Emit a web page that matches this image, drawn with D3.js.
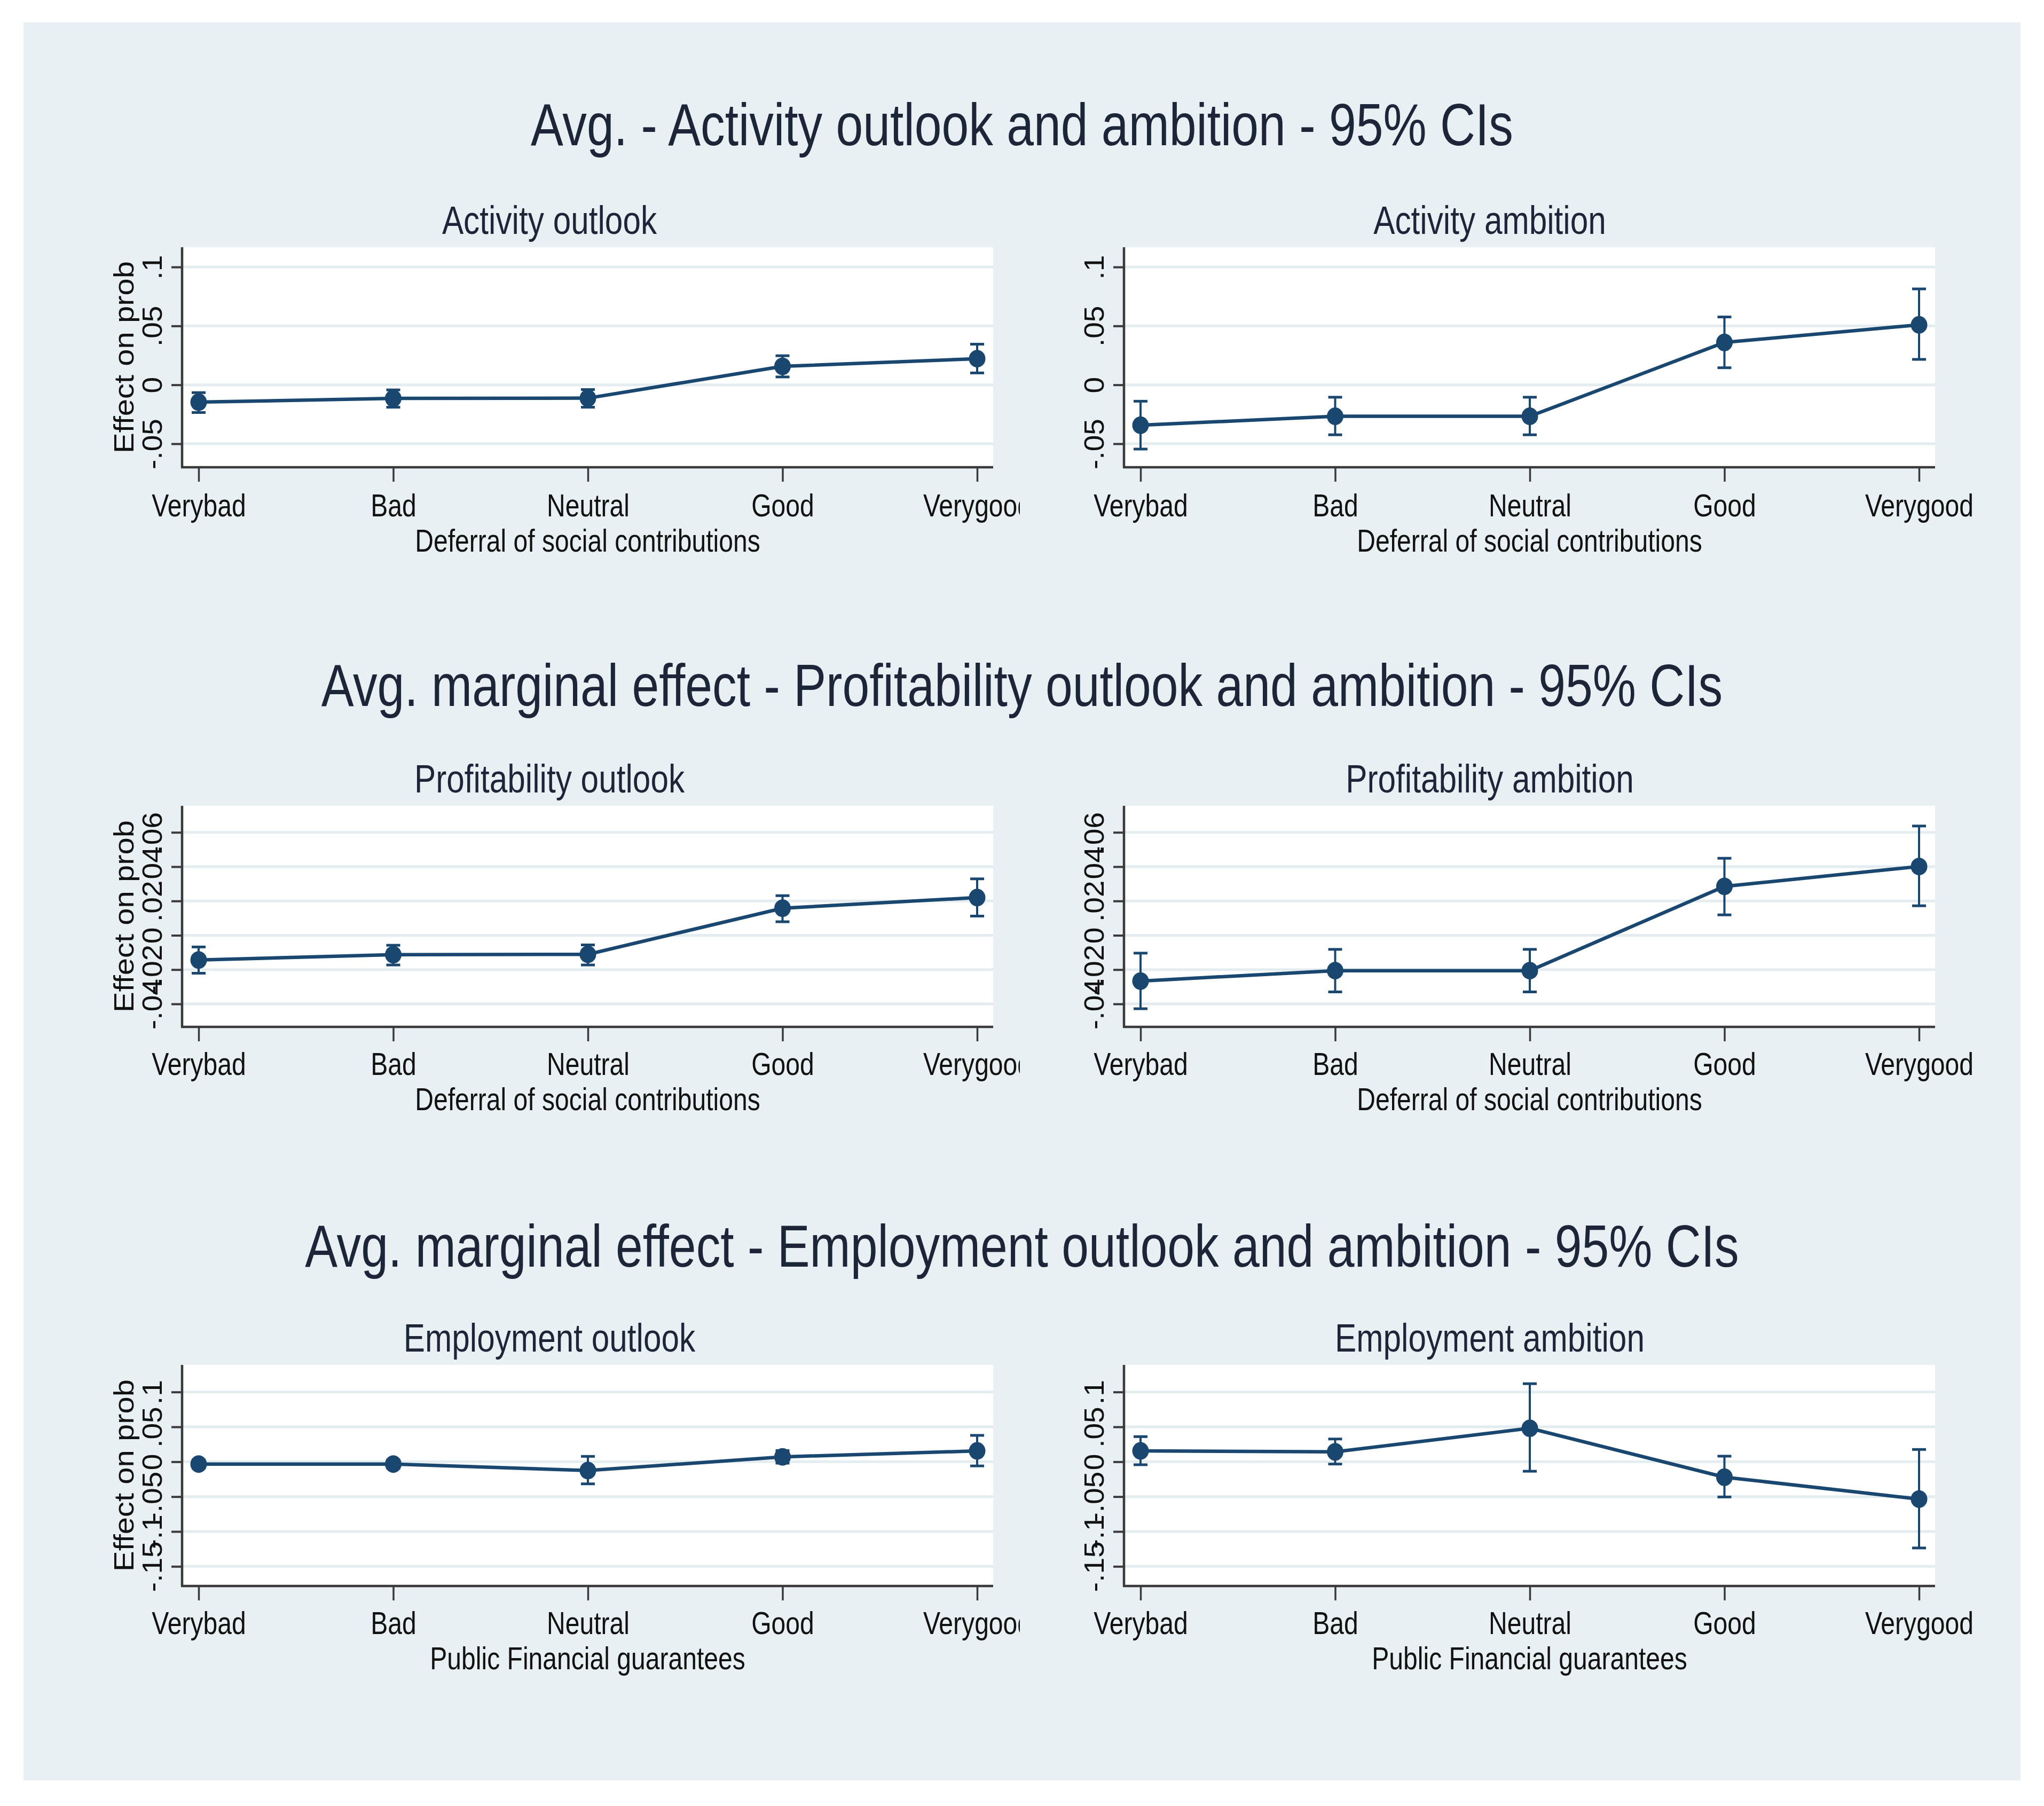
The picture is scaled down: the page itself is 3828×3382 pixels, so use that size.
<!DOCTYPE html>
<html>
<head>
<meta charset="utf-8">
<script src="https://cdn.jsdelivr.net/npm/d3@7"></script>
<style>
  body { margin: 0; background: #ffffff; }
  text { font-family: "Liberation Sans", Arial, sans-serif; }
</style>
</head>
<body>
<div id="plot"></div>
<script>
// categories on the x axis (same for every panel)
const categories = ["Verybad", "Bad", "Neutral", "Good", "Verygood"];

const rowTitles = [
  "Avg. - Activity outlook and ambition - 95% CIs",
  "Avg. marginal effect - Profitability outlook and ambition - 95% CIs",
  "Avg. marginal effect - Employment outlook and ambition - 95% CIs"
];

// y ticks per row
const activityTicks = [-0.05, 0, 0.05, 0.1];
const activityTickLabels = ["-.05", "0", ".05", ".1"];
const profitTicks = [-0.04, -0.02, 0, 0.02, 0.04, 0.06];
const profitTickLabels = ["-.04", "-.02", "0", ".02", ".04", ".06"];
const employTicks = [-0.15, -0.1, -0.05, 0, 0.05, 0.1];
const employTickLabels = ["-.15", "-.1", "-.05", "0", ".05", ".1"];

// Activity outlook
const actOutEst = [-0.0147, -0.0115, -0.0113, 0.0157, 0.0222];
const actOutLo  = [-0.0235, -0.0190, -0.0190, 0.0067, 0.0101];
const actOutHi  = [-0.0066, -0.0043, -0.0040, 0.0247, 0.0345];
// Activity ambition
const actAmbEst = [-0.0343, -0.0267, -0.0267, 0.0360, 0.0509];
const actAmbLo  = [-0.0545, -0.0424, -0.0424, 0.0145, 0.0216];
const actAmbHi  = [-0.0139, -0.0105, -0.0105, 0.0576, 0.0814];
// Profitability outlook
const proOutEst = [-0.0144, -0.0113, -0.0111, 0.0158, 0.0220];
const proOutLo  = [-0.0221, -0.0173, -0.0173, 0.0079, 0.0112];
const proOutHi  = [-0.0068, -0.0058, -0.0056, 0.0231, 0.0329];
// Profitability ambition
const proAmbEst = [-0.0267, -0.0206, -0.0206, 0.0285, 0.0401];
const proAmbLo  = [-0.0428, -0.0330, -0.0330, 0.0119, 0.0172];
const proAmbHi  = [-0.0104, -0.0082, -0.0082, 0.0449, 0.0637];
// Employment outlook
const empOutEst = [-0.0033, -0.0033, -0.0126, 0.0070, 0.0155];
const empOutLo  = [-0.0090, -0.0090, -0.0317, -0.0020, -0.0060];
const empOutHi  = [0.0024, 0.0024, 0.0077, 0.0160, 0.0378];
// Employment ambition
const empAmbEst = [0.0155, 0.0142, 0.0480, -0.0221, -0.0535];
const empAmbLo  = [-0.0043, -0.0033, -0.0136, -0.0505, -0.1236];
const empAmbHi  = [0.0360, 0.0326, 0.1119, 0.0080, 0.0176];

const panels = [
  {row: 0, col: 0, title: "Activity outlook", xTitle: "Deferral of social contributions", est: actOutEst, lo: actOutLo, hi: actOutHi, ticks: activityTicks, labels: activityTickLabels},
  {row: 0, col: 1, title: "Activity ambition", xTitle: "Deferral of social contributions", est: actAmbEst, lo: actAmbLo, hi: actAmbHi, ticks: activityTicks, labels: activityTickLabels},
  {row: 1, col: 0, title: "Profitability outlook", xTitle: "Deferral of social contributions", est: proOutEst, lo: proOutLo, hi: proOutHi, ticks: profitTicks, labels: profitTickLabels},
  {row: 1, col: 1, title: "Profitability ambition", xTitle: "Deferral of social contributions", est: proAmbEst, lo: proAmbLo, hi: proAmbHi, ticks: profitTicks, labels: profitTickLabels},
  {row: 2, col: 0, title: "Employment outlook", xTitle: "Public Financial guarantees", est: empOutEst, lo: empOutLo, hi: empOutHi, ticks: employTicks, labels: employTickLabels},
  {row: 2, col: 1, title: "Employment ambition", xTitle: "Public Financial guarantees", est: empAmbEst, lo: empAmbLo, hi: empAmbHi, ticks: employTicks, labels: employTickLabels}
];

// page layout (pixels)
const width = 3828;
const height = 3382;
const rows = [
  {title: 272,  sub: 438,  top: 463,  bottom: 875,  tickTop: 500,    tickBot: 831,    tickLab: 967,  xTitle: 1033},
  {title: 1322, sub: 1484, top: 1509, bottom: 1923, tickTop: 1558.7, tickBot: 1880,   tickLab: 2013, xTitle: 2079},
  {title: 2372, sub: 2531, top: 2556, bottom: 2970, tickTop: 2606.7, tickBot: 2933.3, tickLab: 3060, xTitle: 3126}
];
const cols = [
  {axis: 341,  right: 1860, first: 372,  last: 1830, sub: 1029, clip: true},
  {axis: 2105, right: 3624, first: 2136, last: 3594, sub: 2790, clip: false}
];
const navy = "#1a476f";
const axisColor = "#3a3a3a";
const narrow = 0.815;   // horizontal squeeze of the narrow Stata font

const svg = d3.select("#plot").append("svg")
    .attr("width", width)
    .attr("height", height);

svg.append("rect").attr("width", width).attr("height", height).attr("fill", "#ffffff");
svg.append("rect")
    .attr("x", 44).attr("y", 42)
    .attr("width", 3740).attr("height", 3292)
    .attr("fill", "#e8f0f3");

svg.append("defs").append("clipPath").attr("id", "clipLeft")
    .append("rect").attr("x", 0).attr("y", 0).attr("width", 1910).attr("height", height);

function hText(g, x, y, str, size, color) {
    return g.append("text")
        .attr("transform", `translate(${x},${y}) scale(${narrow},1)`)
        .attr("text-anchor", "middle")
        .attr("font-size", size)
        .attr("fill", color)
        .text(str);
}

// row titles
rowTitles.forEach(function(t, i) {
    hText(svg, 1914, rows[i].title, t, 112, "#1c2638");
});

panels.forEach(function(p) {
    const r = rows[p.row];
    const c = cols[p.col];
    const g = svg.append("g");
    if (c.clip) g.attr("clip-path", "url(#clipLeft)");

    const x = d3.scalePoint().domain(categories).range([c.first, c.last]);
    const y = d3.scaleLinear()
        .domain([p.ticks[0], p.ticks[p.ticks.length - 1]])
        .range([r.tickBot, r.tickTop]);

    // subtitle
    hText(g, c.sub, r.sub, p.title, 74, "#1c2638");

    // plot region
    g.append("rect")
        .attr("x", c.axis).attr("y", r.top)
        .attr("width", c.right - c.axis).attr("height", r.bottom - r.top)
        .attr("fill", "#ffffff");

    // grid lines
    g.append("g").selectAll("line")
        .data(p.ticks)
        .join("line")
        .attr("x1", c.axis).attr("x2", c.right)
        .attr("y1", d => y(d)).attr("y2", d => y(d))
        .attr("stroke", "#e3ecef")
        .attr("stroke-width", 5);

    // y axis
    const yAxis = g.append("g")
        .attr("transform", `translate(${c.axis},0)`)
        .call(d3.axisLeft(y).tickValues(p.ticks).tickSize(20)
            .tickFormat((d, i) => p.labels[i]));
    yAxis.select(".domain").remove();
    yAxis.selectAll(".tick line").attr("stroke", axisColor).attr("stroke-width", 4);
    yAxis.selectAll(".tick text")
        .attr("x", null).attr("dy", null)
        .attr("text-anchor", "middle")
        .attr("font-size", 55)
        .attr("fill", "#111111")
        .attr("transform", "translate(-38,0) scale(0.93,1) rotate(-90)");
    g.append("line")
        .attr("x1", c.axis).attr("x2", c.axis)
        .attr("y1", r.top).attr("y2", r.bottom)
        .attr("stroke", axisColor).attr("stroke-width", 4.5);

    // x axis
    const xAxis = g.append("g")
        .attr("transform", `translate(0,${r.bottom})`)
        .call(d3.axisBottom(x).tickSize(27));
    xAxis.select(".domain").remove();
    xAxis.selectAll(".tick line").attr("stroke", axisColor).attr("stroke-width", 3.5);
    xAxis.selectAll(".tick text")
        .attr("y", null).attr("dy", null)
        .attr("font-size", 59)
        .attr("fill", "#111111")
        .attr("transform", `translate(0,${r.tickLab - r.bottom}) scale(${narrow},1)`);
    g.append("line")
        .attr("x1", c.axis - 2).attr("x2", c.right)
        .attr("y1", r.bottom).attr("y2", r.bottom)
        .attr("stroke", axisColor).attr("stroke-width", 4.5);

    // axis titles
    hText(g, (c.axis + c.right) / 2, r.xTitle, p.xTitle, 59, "#111111");
    if (p.col === 0) {
        g.append("text")
            .attr("transform", `translate(250,${(r.top + r.bottom) / 2}) scale(0.88,1) rotate(-90)`)
            .attr("text-anchor", "middle")
            .attr("font-size", 58)
            .attr("fill", "#111111")
            .text("Effect on prob");
    }

    // confidence intervals
    const ci = g.append("g").attr("stroke", navy);
    ci.selectAll("line.bar")
        .data(categories)
        .join("line")
        .attr("class", "bar")
        .attr("x1", d => x(d)).attr("x2", d => x(d))
        .attr("y1", (d, i) => y(p.lo[i])).attr("y2", (d, i) => y(p.hi[i]))
        .attr("stroke-width", 4);
    ci.selectAll("line.caplo")
        .data(categories)
        .join("line")
        .attr("class", "caplo")
        .attr("x1", d => x(d) - 13).attr("x2", d => x(d) + 13)
        .attr("y1", (d, i) => y(p.lo[i])).attr("y2", (d, i) => y(p.lo[i]))
        .attr("stroke-width", 5);
    ci.selectAll("line.caphi")
        .data(categories)
        .join("line")
        .attr("class", "caphi")
        .attr("x1", d => x(d) - 13).attr("x2", d => x(d) + 13)
        .attr("y1", (d, i) => y(p.hi[i])).attr("y2", (d, i) => y(p.hi[i]))
        .attr("stroke-width", 5);

    // connecting line
    const line = d3.line()
        .x((d, i) => x(categories[i]))
        .y(d => y(d));
    g.append("path")
        .datum(p.est)
        .attr("d", line)
        .attr("fill", "none")
        .attr("stroke", navy)
        .attr("stroke-width", 6.5);

    // markers
    g.append("g").selectAll("ellipse")
        .data(p.est)
        .join("ellipse")
        .attr("cx", (d, i) => x(categories[i]))
        .attr("cy", d => y(d))
        .attr("rx", 15.5)
        .attr("ry", 16.5)
        .attr("fill", navy);
});
</script>
</body>
</html>
